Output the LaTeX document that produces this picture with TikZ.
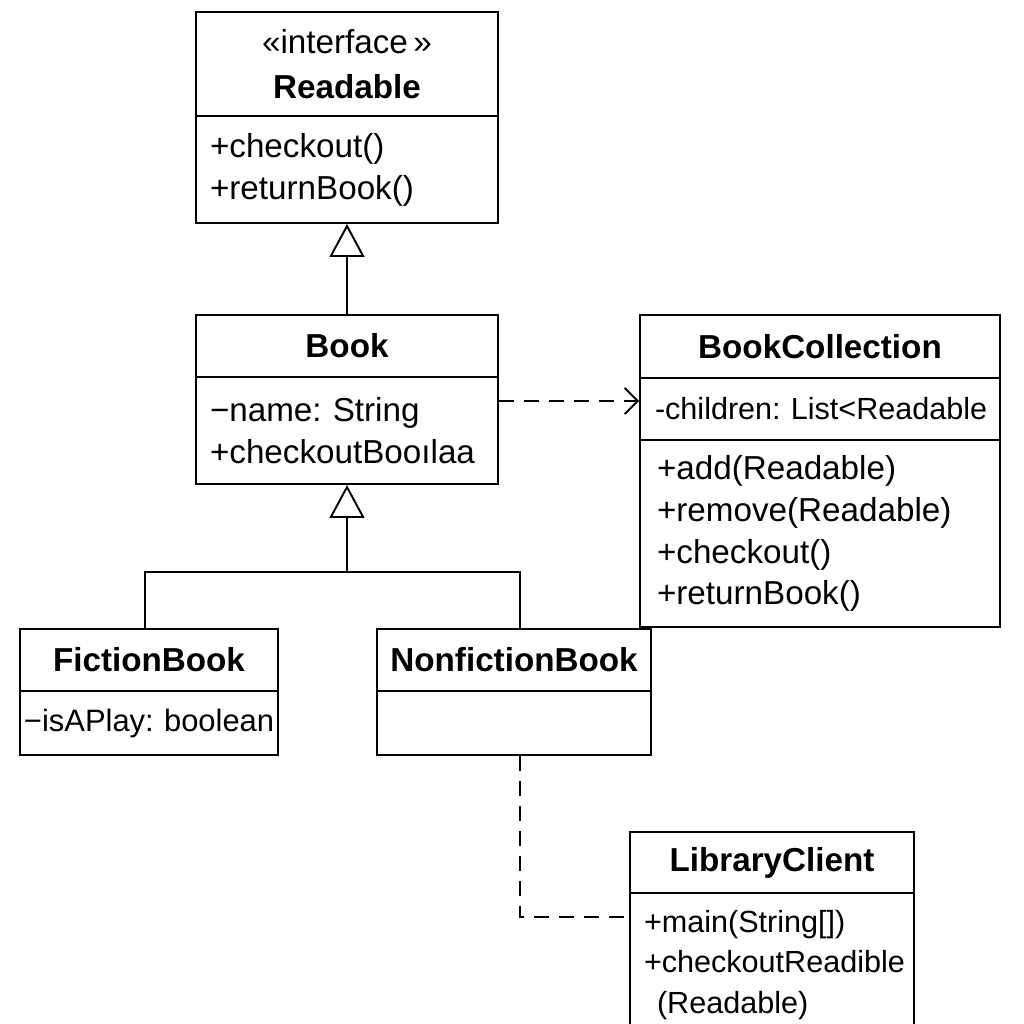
\documentclass[tikz,border=0pt]{standalone}
\usepackage{fontspec}
\setmainfont{Liberation Sans}
\usetikzlibrary{arrows.meta}
\hyphenpenalty=10000
\frenchspacing

\tikzstyle{uml-base}=[rectangle,
                      draw=black,
                      line width=1.1pt,
                      font=\fontsize{18.9}{23.8}\selectfont,
                     ]
\tikzstyle{uml-title}=[uml-base,
                       align=center,
                       font=\fontsize{18.9}{25.5}\selectfont\bfseries]
\tikzstyle{uml-members}=[uml-base,
                         align=left,
                         inner xsep=0.28cm]
\tikzstyle{generalization}=[line width=1.1pt,
                            -{Triangle[open, length=0.66cm, width=0.70cm]}]
\tikzstyle{dependency}=[line width=1.1pt,
                        dash pattern=on 0.3cm off 0.2cm]

\begin{document}
\begin{tikzpicture}
\useasboundingbox (0cm, 0cm) rectangle (20.48cm, -20.48cm);
\clip (0cm, 0cm) rectangle (20.48cm, -20.48cm);

\node at (6.94cm,  -1.28cm) (readable_title)     [uml-title, minimum width=6.04cm, minimum height=2.08cm]   {{\mdseries «interface\,»}\\Readable};
\node at (6.94cm,  -3.39cm) (readable_members)   [uml-members, minimum width=6.04cm, minimum height=2.14cm, text width=5.48cm] {+checkout()\\+returnBook()};

\node at (6.94cm,  -6.92cm) (book_title)         [uml-title, minimum width=6.04cm, minimum height=1.24cm]   {Book};
\node at (6.94cm,  -8.61cm) (book_members)       [uml-members, minimum width=6.04cm, minimum height=2.14cm, text width=5.48cm] {−name: String\\+checkoutBooılaa};

\node at (16.40cm, -6.93cm) (collection_title)   [uml-title, minimum width=7.20cm, minimum height=1.26cm]   {BookCollection};
\node at (16.40cm, -8.18cm) (collection_attr)    [uml-members, inner xsep=0.30cm, minimum width=7.20cm, minimum height=1.24cm, text width=6.60cm, font=\fontsize{17.4}{23.2}\selectfont] {\mbox{-children: List<Readable}};
\node at (16.40cm, -10.67cm) (collection_methods) [uml-members, inner xsep=0.34cm, minimum width=7.20cm, minimum height=3.74cm, text width=6.52cm] {+add(Readable)\\+remove(Readable)\\+checkout()\\+returnBook()};

\node at (2.98cm,  -13.20cm) (fiction_title)     [uml-title, minimum width=5.16cm, minimum height=1.24cm]   {FictionBook};
\node at (2.98cm,  -14.46cm) (fiction_attr)      [uml-members, inner xsep=0.08cm, minimum width=5.16cm, minimum height=1.28cm, text width=5.00cm, font=\fontsize{17.6}{23.2}\selectfont] {\mbox{−isAPlay: boolean}};

\node at (10.28cm, -13.20cm) (nonfiction_title)  [uml-title, minimum width=5.48cm, minimum height=1.24cm]   {NonfictionBook};
\node at (10.28cm, -14.46cm) (nonfiction_attr)   [uml-members, minimum width=5.48cm, minimum height=1.28cm] {};

\node at (15.44cm, -17.25cm) (client_title)      [uml-title, minimum width=5.68cm, minimum height=1.22cm]   {LibraryClient};
\node at (15.44cm, -19.30cm) (client_members)    [uml-members, minimum width=5.68cm, minimum height=2.88cm, text width=5.12cm, font=\fontsize{17.4}{23.2}\selectfont] {+main(String[])\\+checkoutReadible\\\hspace*{0.26cm}(Readable)};

\coordinate (gen_join)   at (6.94cm, -11.44cm);
\coordinate (dep_end)    at ([yshift=0.16cm]collection_attr.west);
\coordinate (dep_client) at ([yshift=-0.46cm]client_title.south west);

\draw[generalization] (book_title.north) -- (readable_members.south);
\draw[generalization] ([xshift=-0.08cm]fiction_title.north) |- (gen_join) -- (book_members.south);
\draw[line width=1.1pt] ([xshift=0.12cm]nonfiction_title.north) |- (gen_join);
\draw[dependency, -{Straight Barb[length=0.26cm, width=0.52cm]}] (book_members.east |- dep_end) -- (dep_end);
\draw[dependency] ([xshift=0.12cm]nonfiction_attr.south) |- (dep_client);
\end{tikzpicture}
\end{document}
